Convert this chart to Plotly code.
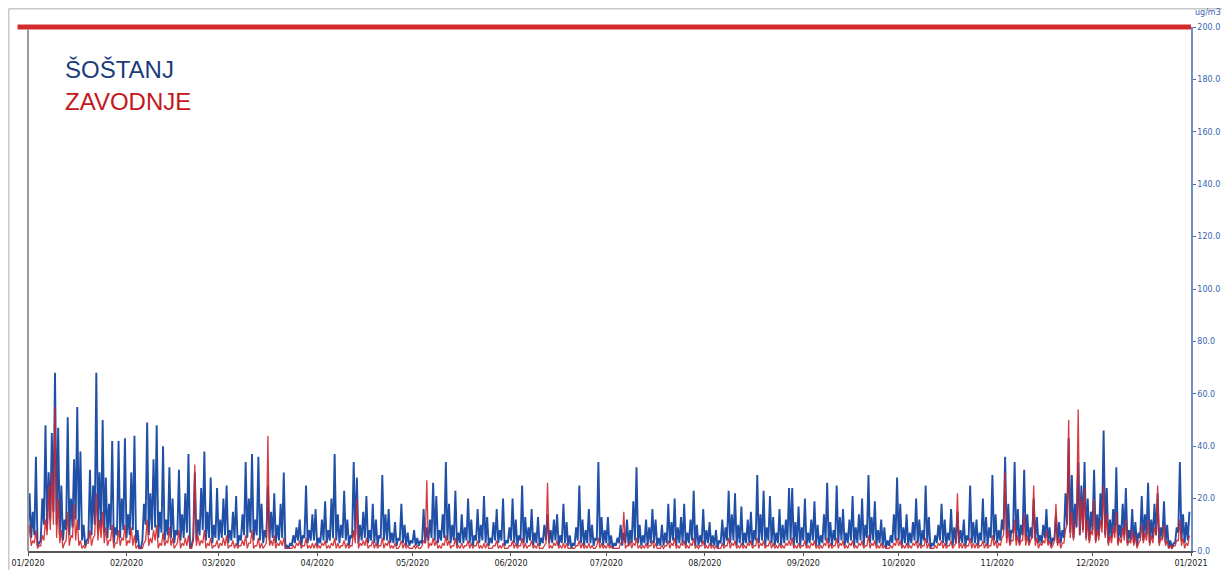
import datetime as dt
import plotly.graph_objects as go

# Šoštanj – daily maxima by month (ug/m3)
sostanj_max_jan = [22,15,36,3,20,48,30,45,68,47,25,12,51,20,35,55,38,10,4,31,25,68,30,50,28,18,42,9,42,20,43]
sostanj_max_feb = [14,30,44,8,1,18,49,22,35,48,15,40,12,32,20,8,31,14,22,37,2,30,12,24,38,15,28,10,24]
sostanj_max_mar = [12,20,25,8,15,21,6,14,34,20,37,12,36,18,8,25,15,22,10,18,30,2,3,6,9,12,6,25,8,14,16]
sostanj_max_apr = [5,12,19,8,20,37,14,10,23,12,6,34,28,10,15,21,8,18,12,6,29,14,16,7,11,5,18,10,7,4]
sostanj_max_may = [8,5,4,16,9,12,26,21,8,14,34,18,10,23,7,14,9,20,12,6,16,10,21,13,5,11,16,8,20,4,9]
sostanj_max_jun = [20,12,6,25,13,9,16,7,13,5,10,14,8,12,14,6,18,11,6,3,9,25,12,8,16,10,5,34,13,8]
sostanj_max_jul = [13,6,3,5,10,7,12,8,19,32,10,6,12,9,16,12,5,10,7,18,11,20,9,13,18,7,12,23,10,6,16]
sostanj_max_aug = [8,11,6,8,4,12,9,23,14,22,10,17,7,12,15,8,29,14,23,9,21,13,7,16,10,12,24,24,11,17,9]
sostanj_max_sep = [20,7,12,19,10,6,14,26,11,8,25,13,16,7,12,21,9,14,20,10,29,13,19,8,12,9,4,6,14,28]
sostanj_max_oct = [18,9,14,7,11,20,12,8,25,13,3,6,10,18,12,7,16,9,15,8,12,6,25,11,12,7,20,13,9,29,14]
sostanj_max_nov = [8,12,36,18,8,34,16,10,31,14,9,20,13,6,10,16,9,5,14,11,8,22,43,29,18,34,25,34,20,15]
sostanj_max_dec = [31,14,22,46,24,12,16,32,10,18,24,8,16,11,7,21,14,26,12,18,22,9,19,10,4,3,9,34,14,11,15]

# Šoštanj – daily minima by month (ug/m3)
sostanj_min_jan = [8,5,6,2,4,10,8,12,15,10,6,4,8,6,9,12,8,4,2,5,6,10,8,9,7,5,8,3,6,5,8]
sostanj_min_feb = [5,6,8,3,1,4,10,6,8,9,5,7,4,6,5,3,6,4,5,7,1,5,4,6,8,4,5,3,5]
sostanj_min_mar = [4,5,6,3,4,5,2,4,6,5,7,4,6,4,3,5,4,5,3,4,5,1,1,2,3,4,2,5,3,4,4]
sostanj_min_apr = [2,3,4,3,4,5,4,3,5,4,2,5,6,3,4,5,3,4,3,2,5,4,4,3,3,2,4,3,2,2]
sostanj_min_may = [3,2,2,3,3,4,5,4,3,4,5,4,3,4,2,3,3,4,3,2,4,3,4,3,2,3,4,3,4,2,3]
sostanj_min_jun = [4,3,2,4,3,3,4,2,3,2,3,4,3,3,4,2,3,3,2,1,2,4,3,2,3,3,2,4,3,2]
sostanj_min_jul = [3,2,1,2,3,2,3,2,3,4,3,2,3,2,3,3,2,2,2,3,3,4,2,3,3,2,3,4,2,2,3]
sostanj_min_aug = [2,3,2,2,1,3,2,4,3,4,2,3,2,3,3,2,4,3,4,2,4,3,2,3,2,3,4,4,2,3,2]
sostanj_min_sep = [4,2,3,4,2,2,3,4,3,2,4,3,4,2,3,4,2,3,4,2,5,3,4,2,3,2,1,2,3,4]
sostanj_min_oct = [4,2,3,2,3,4,3,2,4,3,1,2,3,4,3,2,4,2,3,3,3,2,4,3,3,2,4,3,2,5,4]
sostanj_min_nov = [3,4,8,5,3,7,4,3,6,4,3,5,4,3,3,5,3,2,4,3,3,5,10,7,5,9,6,8,5,4]
sostanj_min_dec = [8,4,6,10,6,3,5,7,3,5,6,3,4,3,2,5,4,6,3,5,6,3,5,3,1,1,3,7,4,3,4]

# Zavodnje – daily maxima by month (ug/m3)
zavodnje_max_jan = [10,4,8,2,6,12,25,30,55,20,8,3,15,6,18,12,4,2,3,8,5,22,12,15,9,4,10,3,8,5,10]
zavodnje_max_feb = [4,9,6,2,1,3,12,5,8,10,3,7,4,9,5,2,8,3,5,6,1,33,6,4,8,3,5,2,4]
zavodnje_max_mar = [3,5,6,2,4,3,2,4,6,3,8,2,5,3,2,44,4,6,3,4,5,1,1,2,3,4,2,5,2,3,3]
zavodnje_max_apr = [2,3,4,2,3,5,3,2,4,3,2,8,20,3,4,5,2,4,3,2,5,3,4,2,3,1,4,3,2,1]
zavodnje_max_may = [2,2,1,4,27,3,5,4,2,3,6,4,2,5,2,3,2,4,3,2,4,2,3,3,1,2,4,2,3,1,2]
zavodnje_max_jun = [4,3,2,5,3,2,4,2,3,1,2,26,2,3,4,2,3,3,1,1,2,4,3,2,3,2,1,5,3,2]
zavodnje_max_jul = [3,2,1,1,3,15,2,4,3,5,2,2,3,2,4,3,1,2,2,4,3,5,2,3,4,2,3,5,2,2,4]
zavodnje_max_aug = [2,3,2,2,1,3,2,5,3,4,2,3,2,3,4,2,5,3,4,2,4,3,2,3,2,3,4,5,2,3,2]
zavodnje_max_sep = [4,2,3,4,2,2,3,5,3,2,5,3,4,2,3,4,2,3,4,2,6,3,4,2,3,2,1,2,3,5]
zavodnje_max_oct = [4,2,3,2,3,4,3,2,5,3,1,2,3,4,3,2,4,2,22,3,3,2,5,3,3,2,4,3,2,6,4]
zavodnje_max_nov = [3,5,30,8,4,12,6,4,14,6,4,25,5,3,4,8,4,2,18,5,3,8,50,15,10,54,20,24,12,8]
zavodnje_max_dec = [20,8,12,25,14,6,9,15,5,9,12,4,8,6,3,10,7,12,6,9,25,5,10,4,2,2,4,12,5,3,6]

# Zavodnje – daily minima by month (ug/m3)
zavodnje_min_jan = [3,2,3,1,2,4,6,8,10,5,3,1,4,2,5,4,2,1,1,3,2,6,4,5,3,2,4,1,3,2,4]
zavodnje_min_feb = [2,3,2,1,1,1,4,2,3,4,1,2,2,3,2,1,3,1,2,2,1,4,2,2,3,1,2,1,2]
zavodnje_min_mar = [1,2,2,1,2,1,1,2,2,1,3,1,2,1,1,3,2,2,1,2,2,1,1,1,1,2,1,2,1,1,1]
zavodnje_min_apr = [1,1,2,1,1,2,1,1,2,1,1,2,3,1,2,2,1,2,1,1,2,1,2,1,1,1,2,1,1,1]
zavodnje_min_may = [1,1,1,2,3,1,2,2,1,1,2,2,1,2,1,1,1,2,1,1,2,1,1,1,1,1,2,1,1,1,1]
zavodnje_min_jun = [2,1,1,2,1,1,2,1,1,1,1,3,1,1,2,1,1,1,1,1,1,2,1,1,1,1,1,2,1,1]
zavodnje_min_jul = [1,1,1,1,1,3,1,2,1,2,1,1,1,1,2,1,1,1,1,2,1,2,1,1,2,1,1,2,1,1,2]
zavodnje_min_aug = [1,1,1,1,1,1,1,2,1,2,1,1,1,1,2,1,2,1,2,1,2,1,1,1,1,1,2,2,1,1,1]
zavodnje_min_sep = [2,1,1,2,1,1,1,2,1,1,2,1,2,1,1,2,1,1,2,1,2,1,2,1,1,1,1,1,1,2]
zavodnje_min_oct = [2,1,1,1,1,2,1,1,2,1,1,1,1,2,1,1,2,1,3,1,1,1,2,1,1,1,2,1,1,2,2]
zavodnje_min_nov = [1,2,6,3,2,4,2,2,4,2,2,5,2,1,2,3,2,1,4,2,1,3,10,5,4,12,6,7,4,3]
zavodnje_min_dec = [6,3,4,7,5,2,3,5,2,3,4,2,3,2,1,4,3,4,2,3,6,2,4,2,1,1,2,4,2,1,2]

limit_value = 200
y_max = 200
series_names = ["ŠOŠTANJ", "ZAVODNJE"]
tick_labels = ["01/2020","02/2020","03/2020","04/2020","05/2020","06/2020","07/2020",
               "08/2020","09/2020","10/2020","11/2020","12/2020","01/2021"]
y_ticks = [0, 20, 40, 60, 80, 100, 120, 140, 160, 180, 200]

sostanj_max = [sostanj_max_jan, sostanj_max_feb, sostanj_max_mar, sostanj_max_apr, sostanj_max_may, sostanj_max_jun,
               sostanj_max_jul, sostanj_max_aug, sostanj_max_sep, sostanj_max_oct, sostanj_max_nov, sostanj_max_dec]
sostanj_min = [sostanj_min_jan, sostanj_min_feb, sostanj_min_mar, sostanj_min_apr, sostanj_min_may, sostanj_min_jun,
               sostanj_min_jul, sostanj_min_aug, sostanj_min_sep, sostanj_min_oct, sostanj_min_nov, sostanj_min_dec]
zavodnje_max = [zavodnje_max_jan, zavodnje_max_feb, zavodnje_max_mar, zavodnje_max_apr, zavodnje_max_may, zavodnje_max_jun,
                zavodnje_max_jul, zavodnje_max_aug, zavodnje_max_sep, zavodnje_max_oct, zavodnje_max_nov, zavodnje_max_dec]
zavodnje_min = [zavodnje_min_jan, zavodnje_min_feb, zavodnje_min_mar, zavodnje_min_apr, zavodnje_min_may, zavodnje_min_jun,
                zavodnje_min_jul, zavodnje_min_aug, zavodnje_min_sep, zavodnje_min_oct, zavodnje_min_nov, zavodnje_min_dec]


def build(mins, maxs):
    """Each day: minimum at 00:00, maximum at 12:00."""
    xs, ys = [], []
    for m in range(12):
        start = dt.datetime(2020, m + 1, 1)
        for i, (lo, hi) in enumerate(zip(mins[m], maxs[m])):
            day = start + dt.timedelta(days=i)
            xs += [day, day + dt.timedelta(hours=12)]
            ys += [lo, hi]
    return xs, ys


sx, sy = build(sostanj_min, sostanj_max)
zx, zy = build(zavodnje_min, zavodnje_max)
tick_vals = [dt.datetime(2020 + (m // 12), m % 12 + 1, 1) for m in range(13)]

fig = go.Figure()
fig.add_trace(go.Scatter(x=sx, y=sy, mode="lines", name=series_names[0],
                         line=dict(color="#1f4fa6", width=1.9)))
fig.add_trace(go.Scatter(x=zx, y=zy, mode="lines", name=series_names[1], opacity=0.9,
                         line=dict(color="#d3262b", width=1.3)))

# limit line (paper y so it is not clipped at the top of the plot area)
limit_y = limit_value / y_max
fig.add_shape(type="line", xref="paper", yref="paper", x0=-0.009, x1=1.0,
              y0=limit_y, y1=limit_y, line=dict(color="#d42a2c", width=5))
# left frame line of plot
fig.add_shape(type="line", xref="paper", yref="paper", x0=0, x1=0, y0=0, y1=0.995,
              line=dict(color="#9a9a9a", width=2))
# outer frame
fig.add_shape(type="line", xref="paper", yref="paper", x0=-0.0165, x1=1.0265, y0=1.035, y1=1.035,
              line=dict(color="#c8c8c8", width=1.5))
fig.add_shape(type="line", xref="paper", yref="paper", x0=-0.0165, x1=-0.0165, y0=-0.05, y1=1.035,
              line=dict(color="#c8c8c8", width=1.5))

fig.add_annotation(text=series_names[0], xref="paper", yref="paper", x=0.030, y=0.918,
                   xanchor="left", yanchor="middle", showarrow=False,
                   font=dict(family="Liberation Sans, Arial", size=24, color="#1c3c7c"))
fig.add_annotation(text=series_names[1], xref="paper", yref="paper", x=0.030, y=0.857,
                   xanchor="left", yanchor="middle", showarrow=False,
                   font=dict(family="Liberation Sans, Arial", size=24, color="#c4161c"))
fig.add_annotation(text="ug/m3", xref="paper", yref="paper", x=1.0146, y=1.028,
                   xanchor="center", yanchor="middle", showarrow=False,
                   font=dict(family="DejaVu Sans", size=8, color="#3a62b0"))

# The page adds an 8px body margin, so the figure is sized to fill the rest of the window.
fig.update_layout(
    width=1222, height=562,
    margin=dict(l=20, r=39, t=19, b=19, autoexpand=False),
    paper_bgcolor="white", plot_bgcolor="white",
    showlegend=False,
    xaxis=dict(range=[tick_vals[0], tick_vals[-1]], tickmode="array", tickvals=tick_vals,
               ticktext=tick_labels, showgrid=False, zeroline=False, automargin=False,
               showline=True, linecolor="#555555", linewidth=2,
               ticks="outside", ticklen=3, tickcolor="#555555",
               tickfont=dict(family="DejaVu Sans", size=8, color="#1a1a1a")),
    yaxis=dict(range=[0, y_max], side="right", tickmode="array", tickvals=y_ticks,
               ticktext=[f"{v:.1f}" for v in y_ticks], showgrid=False, zeroline=False,
               automargin=False,
               showline=True, linecolor="#6f8fcb", linewidth=1.5,
               ticks="outside", ticklen=3, tickcolor="#4a6fb8",
               tickfont=dict(family="DejaVu Sans", size=8, color="#3a62b0")),
)

fig.write_html("out.html")
